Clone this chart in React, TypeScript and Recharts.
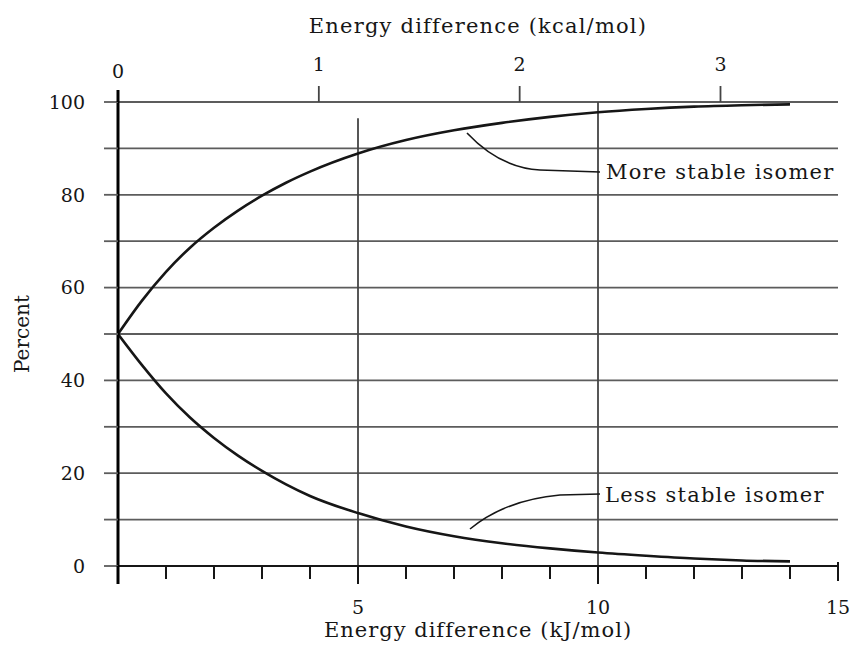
import { LineChart, Line, XAxis, YAxis, CartesianGrid, ReferenceLine, Label } from 'recharts';

// Percent of each isomer at equilibrium vs. energy difference
const energyKJ = [0, 0.5, 1, 1.5, 2, 2.5, 3, 3.5, 4, 5, 6, 7, 8, 9, 10, 11, 12, 13, 14];
const moreStable = [50, 57.2, 63.4, 68.6, 72.9, 76.6, 79.8, 82.6, 85.0, 88.9, 91.8, 93.9, 95.5, 96.8, 97.8, 98.5, 99.0, 99.3, 99.5];
const lessStable = [50, 43.3, 37.2, 32.0, 27.6, 23.8, 20.5, 17.6, 15.1, 11.4, 8.5, 6.4, 4.9, 3.8, 2.9, 2.2, 1.6, 1.2, 1.0];

const kjTicks = [0, 1, 2, 3, 4, 5, 6, 7, 8, 9, 10, 11, 12, 13, 14, 15];
const kjLabels = [5, 10, 15];
const kcalTicks = [0, 1, 2, 3];
const percentTicks = [0, 10, 20, 30, 40, 50, 60, 70, 80, 90, 100];

const KJ_PER_KCAL = 4.184;
const KJ_MAX = 15;

const data = energyKJ.map((e, i) => ({ e, more: moreStable[i], less: lessStable[i] }));

const FONT = '"DejaVu Serif", serif';
const INK = '#161616';
const GRID = '#5c5c5c';

const BottomTick = (props: any) => {
  const { x, y, payload } = props;
  const v = payload.value;
  const long = v === 0 || v === 5 || v === 10;
  return (
    <g>
      <line
        x1={x}
        y1={v === 15 ? y - 4 : y}
        x2={x}
        y2={y + (long ? 18 : v === 15 ? 15 : 13)}
        stroke={v === 0 ? '#000' : INK}
        strokeWidth={v === 0 ? 3 : 2}
      />
      {kjLabels.includes(v) && (
        <text x={x} y={y + 41} textAnchor="middle" dominantBaseline="central" fontFamily={FONT} fontSize={19} fill={INK}>
          {v}
        </text>
      )}
    </g>
  );
};

// top axis runs on the kJ scale, ticks placed at whole kcal
const TopTick = (props: any) => {
  const { x, y, payload } = props;
  const kcal = Math.round(payload.value / KJ_PER_KCAL);
  const zero = kcal === 0;
  return (
    <g>
      <line x1={x} y1={y} x2={x} y2={y - (zero ? 12 : 16)} stroke={zero ? '#000' : '#444'} strokeWidth={zero ? 3 : 1.8} />
      <text x={x} y={y - (zero ? 31 : 38)} textAnchor="middle" dominantBaseline="central" fontFamily={FONT} fontSize={19} fill={INK}>
        {kcal}
      </text>
    </g>
  );
};

export default function App() {
  return (
    <div style={{ position: 'absolute', left: 0, top: 0, width: 854, height: 654, background: '#fff' }}>
      <LineChart width={854} height={654} data={data} margin={{ top: 0, right: 16, bottom: 0, left: 0 }}>
        <CartesianGrid horizontal vertical={false} stroke={GRID} strokeWidth={1.8} />
        <XAxis
          xAxisId="kj"
          dataKey="e"
          type="number"
          domain={[0, KJ_MAX]}
          ticks={kjTicks}
          allowDataOverflow
          height={88}
          tickSize={0}
          tickMargin={0}
          tickLine={false}
          tick={<BottomTick />}
          axisLine={{ stroke: INK, strokeWidth: 2 }}
          interval={0}
        >
          <Label
            value="Energy difference (kJ/mol)"
            position="insideBottom"
            offset={17}
            style={{ fontFamily: FONT, fontSize: 21, letterSpacing: 1, fill: INK }}
          />
        </XAxis>
        <XAxis
          xAxisId="kcal"
          dataKey="e"
          orientation="top"
          type="number"
          domain={[0, KJ_MAX]}
          ticks={kcalTicks.map((k) => k * KJ_PER_KCAL)}
          allowDataOverflow
          height={102}
          tickSize={0}
          tickMargin={0}
          tickLine={false}
          tick={<TopTick />}
          axisLine={false}
          interval={0}
        >
          <Label
            value="Energy difference (kcal/mol)"
            position="insideTop"
            offset={18}
            style={{ fontFamily: FONT, fontSize: 21, letterSpacing: 1.2, fill: INK }}
          />
        </XAxis>
        <YAxis
          type="number"
          domain={[0, 100]}
          ticks={percentTicks}
          interval={0}
          width={118}
          tickSize={14}
          tickMargin={19}
          tickLine={{ stroke: GRID, strokeWidth: 1.8 }}
          axisLine={{ stroke: '#000', strokeWidth: 3 }}
          tickFormatter={(v: number) => (v % 20 === 0 ? String(v) : '')}
          tick={{ fontFamily: FONT, fontSize: 19, fill: INK }}
        >
          <Label
            value="Percent"
            angle={-90}
            position="insideLeft"
            offset={22}
            style={{ fontFamily: FONT, fontSize: 20, textAnchor: 'middle', fill: INK }}
          />
        </YAxis>
        <ReferenceLine
          xAxisId="kj"
          segment={[{ x: 5, y: 96.5 }, { x: 5, y: 0 }]}
          stroke="#444"
          strokeWidth={1.8}
        />
        <ReferenceLine xAxisId="kj" x={10} stroke="#444" strokeWidth={1.8} />
        <Line
          xAxisId="kj"
          dataKey="more"
          type="monotone"
          stroke={INK}
          strokeWidth={2.6}
          dot={false}
          isAnimationActive={false}
        />
        <Line
          xAxisId="kcal"
          dataKey="less"
          type="monotone"
          stroke={INK}
          strokeWidth={2.6}
          dot={false}
          isAnimationActive={false}
        />
      </LineChart>

      {/* curve call-outs */}
      <svg width={854} height={654} style={{ position: 'absolute', left: 0, top: 0, pointerEvents: 'none' }}>
        <path d="M467,133 Q500,168 540,170 L600,172" fill="none" stroke={INK} strokeWidth={1.6} />
        <path d="M470,529 Q505,500 560,495 L600,494" fill="none" stroke={INK} strokeWidth={1.6} />
        <text x={606} y={172} dominantBaseline="central" fontFamily={FONT} fontSize={21} letterSpacing={1.2} fill={INK}>
          More stable isomer
        </text>
        <text x={605} y={495} dominantBaseline="central" fontFamily={FONT} fontSize={21} letterSpacing={1.2} fill={INK}>
          Less stable isomer
        </text>
      </svg>
    </div>
  );
}
